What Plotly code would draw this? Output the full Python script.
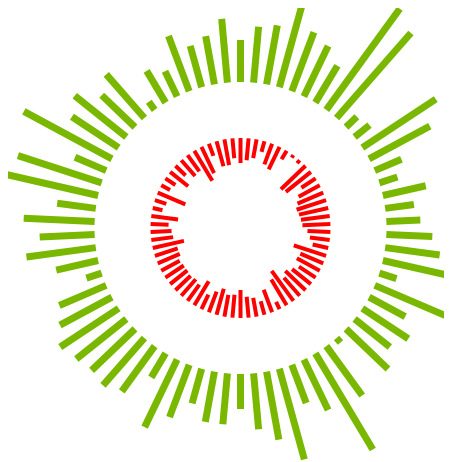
import numpy as np
import plotly.graph_objects as go

categories = [str(i) for i in range(1, 71)]

green_values = [42, 56, 60, 88, 63, 56, 43, 125, 113, 15,
                19, 88, 69, 29, 19, 44, 29, 34, 46, 55,
                70, 18, 78, 41, 55, 45, 58, 6, 61, 112,
                56, 41, 94, 69, 56, 35, 51, 51, 36, 56,
                75, 28, 56, 63, 60, 64, 70, 59, 51, 16,
                43, 70, 55, 71, 39, 99, 88, 34, 100, 56,
                66, 46, 58, 10, 37, 28, 59, 43, 49, 64]

red_values = [25, 22, 19, 11, 22, 25, 10, 3, 4, 34,
              32, 17, 24, 28, 31, 30, 29, 28, 23, 20,
              16, 34, 25, 26, 20, 24, 28, 24, 37, 30,
              8, 24, 14, 19, 21, 28, 23, 22, 27, 22,
              16, 28, 20, 22, 21, 22, 22, 21, 24, 24,
              32, 22, 21, 18, 27, 10, 12, 30, 10, 12,
              23, 14, 21, 20, 35, 29, 13, 26, 26, 20]

GREEN_BASE = 146   # green bars grow outward from this radius
RED_BASE = 90      # red bars grow inward from this radius

# categories spread clockwise around the circle, first one at 12 o'clock
angles = np.deg2rad(np.arange(len(categories)) * 360 / len(categories))


def spokes(base, values, sign):
    xs, ys = [], []
    for a, v in zip(angles, values):
        r0, r1 = base, base + sign * v
        xs += [r0 * np.sin(a), r1 * np.sin(a), None]
        ys += [r0 * np.cos(a), r1 * np.cos(a), None]
    return xs, ys


gx, gy = spokes(GREEN_BASE, green_values, 1)
rx, ry = spokes(RED_BASE, red_values, -1)

fig = go.Figure()
fig.add_trace(go.Scatter(x=gx, y=gy, mode="lines",
                         line=dict(color="#7ab800", width=7),
                         hoverinfo="skip"))
fig.add_trace(go.Scatter(x=rx, y=ry, mode="lines",
                         line=dict(color="#ff0000", width=4),
                         hoverinfo="skip"))

# page body adds an 8px offset, so the figure is 444x454 with the hub at (232.5, 220)
fig.update_layout(
    width=444, height=454,
    margin=dict(l=0, r=0, t=0, b=0),
    paper_bgcolor="white", plot_bgcolor="white",
    showlegend=False,
    xaxis=dict(range=[-232.5, 211.5], visible=False),
    yaxis=dict(range=[-234, 220], visible=False),
)

fig.write_html("out.html")
